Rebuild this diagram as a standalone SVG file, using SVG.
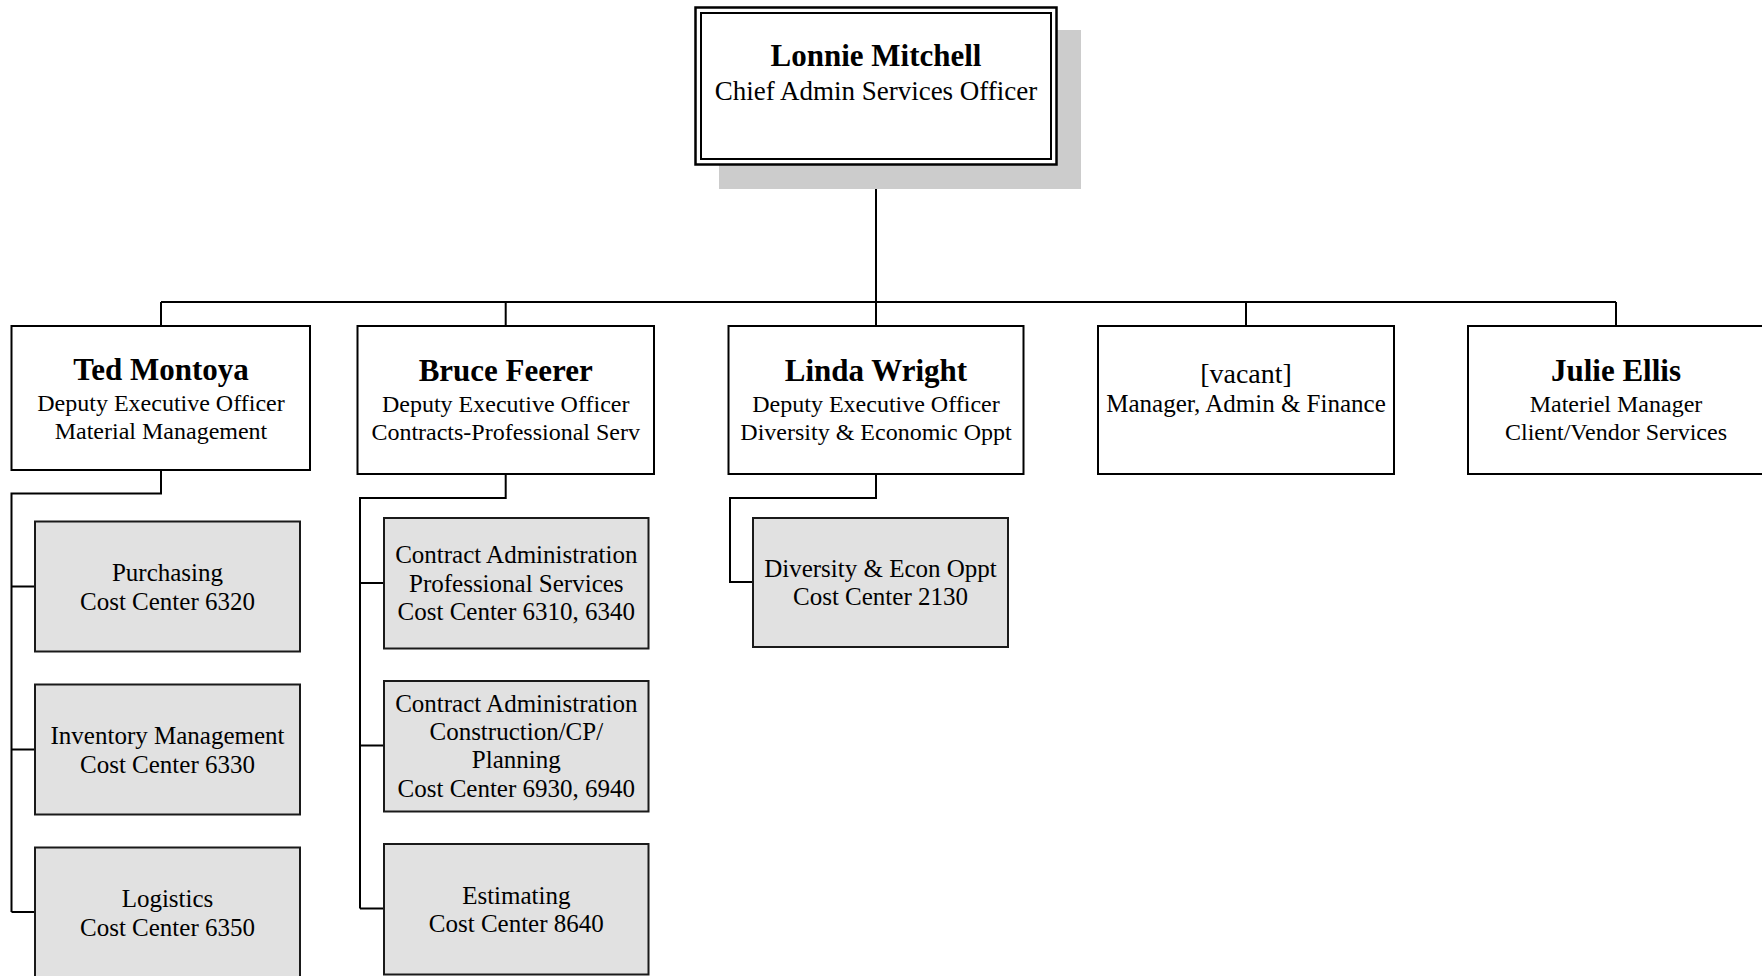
<svg xmlns="http://www.w3.org/2000/svg" width="1762" height="976" viewBox="0 0 1762 976">
<style>
text{font-family:"Liberation Serif","Times New Roman",serif;fill:#000;text-anchor:middle}
.name{font-size:31px;font-weight:bold}
.sub{font-size:24px}
.cc{font-size:25px}
.box{fill:#fff;stroke:#000;stroke-width:2}
.gbox{fill:#e1e1e1;stroke:#1a1a1a;stroke-width:2}
.conn{fill:none;stroke:#000;stroke-width:2}
</style>
<rect width="1762" height="976" fill="#fff"/>
<g id="connectors">
<path class="conn" d="M876 165V302M161 302H1616M161 302V326M505.7 302V326M876 302V326M1246 302V326M1616 302V326"/>
<path class="conn" d="M161 470V493.5H11.5V912M11.5 586.5H35M11.5 749.5H35M11.5 912H35"/>
<path class="conn" d="M505.7 474V498H360V908.5M360 583H384M360 745.5H384M360 908.5H384"/>
<path class="conn" d="M876 474V498H730V582H753"/>
</g>
<g id="lonnie">
<rect x="719" y="30" width="362" height="159" fill="#cccccc"/>
<rect x="695.5" y="7.5" width="361" height="157" fill="#fff" stroke="#000" stroke-width="2.5"/>
<rect x="701" y="13" width="350" height="146" fill="none" stroke="#000" stroke-width="2"/>
<text class="name" x="876" y="66">Lonnie Mitchell</text>
<text x="876" y="100" font-size="27">Chief Admin Services Officer</text>
</g>
<g id="ted">
<rect class="box" x="11.5" y="326" width="298.5" height="144"/>
<text class="name" x="161" y="380">Ted Montoya</text>
<text class="sub" x="161" y="410.5">Deputy Executive Officer</text>
<text class="sub" x="161" y="438.5">Material Management</text>
</g>
<g id="bruce">
<rect class="box" x="357.5" y="326" width="296.5" height="148"/>
<text class="name" x="505.7" y="381">Bruce Feerer</text>
<text class="sub" x="505.7" y="412">Deputy Executive Officer</text>
<text class="sub" x="505.7" y="440">Contracts-Professional Serv</text>
</g>
<g id="linda">
<rect class="box" x="728.5" y="326" width="295" height="148"/>
<text class="name" x="876" y="381">Linda Wright</text>
<text class="sub" x="876" y="412">Deputy Executive Officer</text>
<text class="sub" x="876" y="440">Diversity &amp; Economic Oppt</text>
</g>
<g id="vacant">
<rect class="box" x="1098" y="326" width="296" height="148"/>
<text x="1246" y="383" font-size="28">[vacant]</text>
<text x="1246" y="412" font-size="25">Manager, Admin &amp; Finance</text>
</g>
<g id="julie">
<rect class="box" x="1468" y="326" width="297" height="148"/>
<text class="name" x="1616" y="381">Julie Ellis</text>
<text class="sub" x="1616" y="412">Materiel Manager</text>
<text class="sub" x="1616" y="440">Client/Vendor Services</text>
</g>
<g id="purchasing">
<rect class="gbox" x="35" y="521.5" width="265" height="130"/>
<text class="cc" x="167.5" y="581">Purchasing</text>
<text class="cc" x="167.5" y="609.5">Cost Center 6320</text>
</g>
<g id="inventory">
<rect class="gbox" x="35" y="684.5" width="265" height="130"/>
<text class="cc" x="167.5" y="744">Inventory Management</text>
<text class="cc" x="167.5" y="772.5">Cost Center 6330</text>
</g>
<g id="logistics">
<rect class="gbox" x="35" y="847.5" width="265" height="131"/>
<text class="cc" x="167.5" y="907">Logistics</text>
<text class="cc" x="167.5" y="935.5">Cost Center 6350</text>
</g>
<g id="contract-ps">
<rect class="gbox" x="384" y="518" width="264.5" height="130.5"/>
<text class="cc" x="516.3" y="563">Contract Administration</text>
<text class="cc" x="516.3" y="591.5">Professional Services</text>
<text class="cc" x="516.3" y="620">Cost Center 6310, 6340</text>
</g>
<g id="contract-cp">
<rect class="gbox" x="384" y="681" width="264.5" height="130.5"/>
<text class="cc" x="516.3" y="711.5">Contract Administration</text>
<text class="cc" x="516.3" y="740">Construction/CP/</text>
<text class="cc" x="516.3" y="768">Planning</text>
<text class="cc" x="516.3" y="796.5">Cost Center 6930, 6940</text>
</g>
<g id="estimating">
<rect class="gbox" x="384" y="844" width="264.5" height="130.5"/>
<text class="cc" x="516.3" y="903.5">Estimating</text>
<text class="cc" x="516.3" y="931.5">Cost Center 8640</text>
</g>
<g id="diversity">
<rect class="gbox" x="753" y="518" width="255" height="129"/>
<text class="cc" x="880.5" y="576.5">Diversity &amp; Econ Oppt</text>
<text class="cc" x="880.5" y="605">Cost Center 2130</text>
</g>
</svg>
